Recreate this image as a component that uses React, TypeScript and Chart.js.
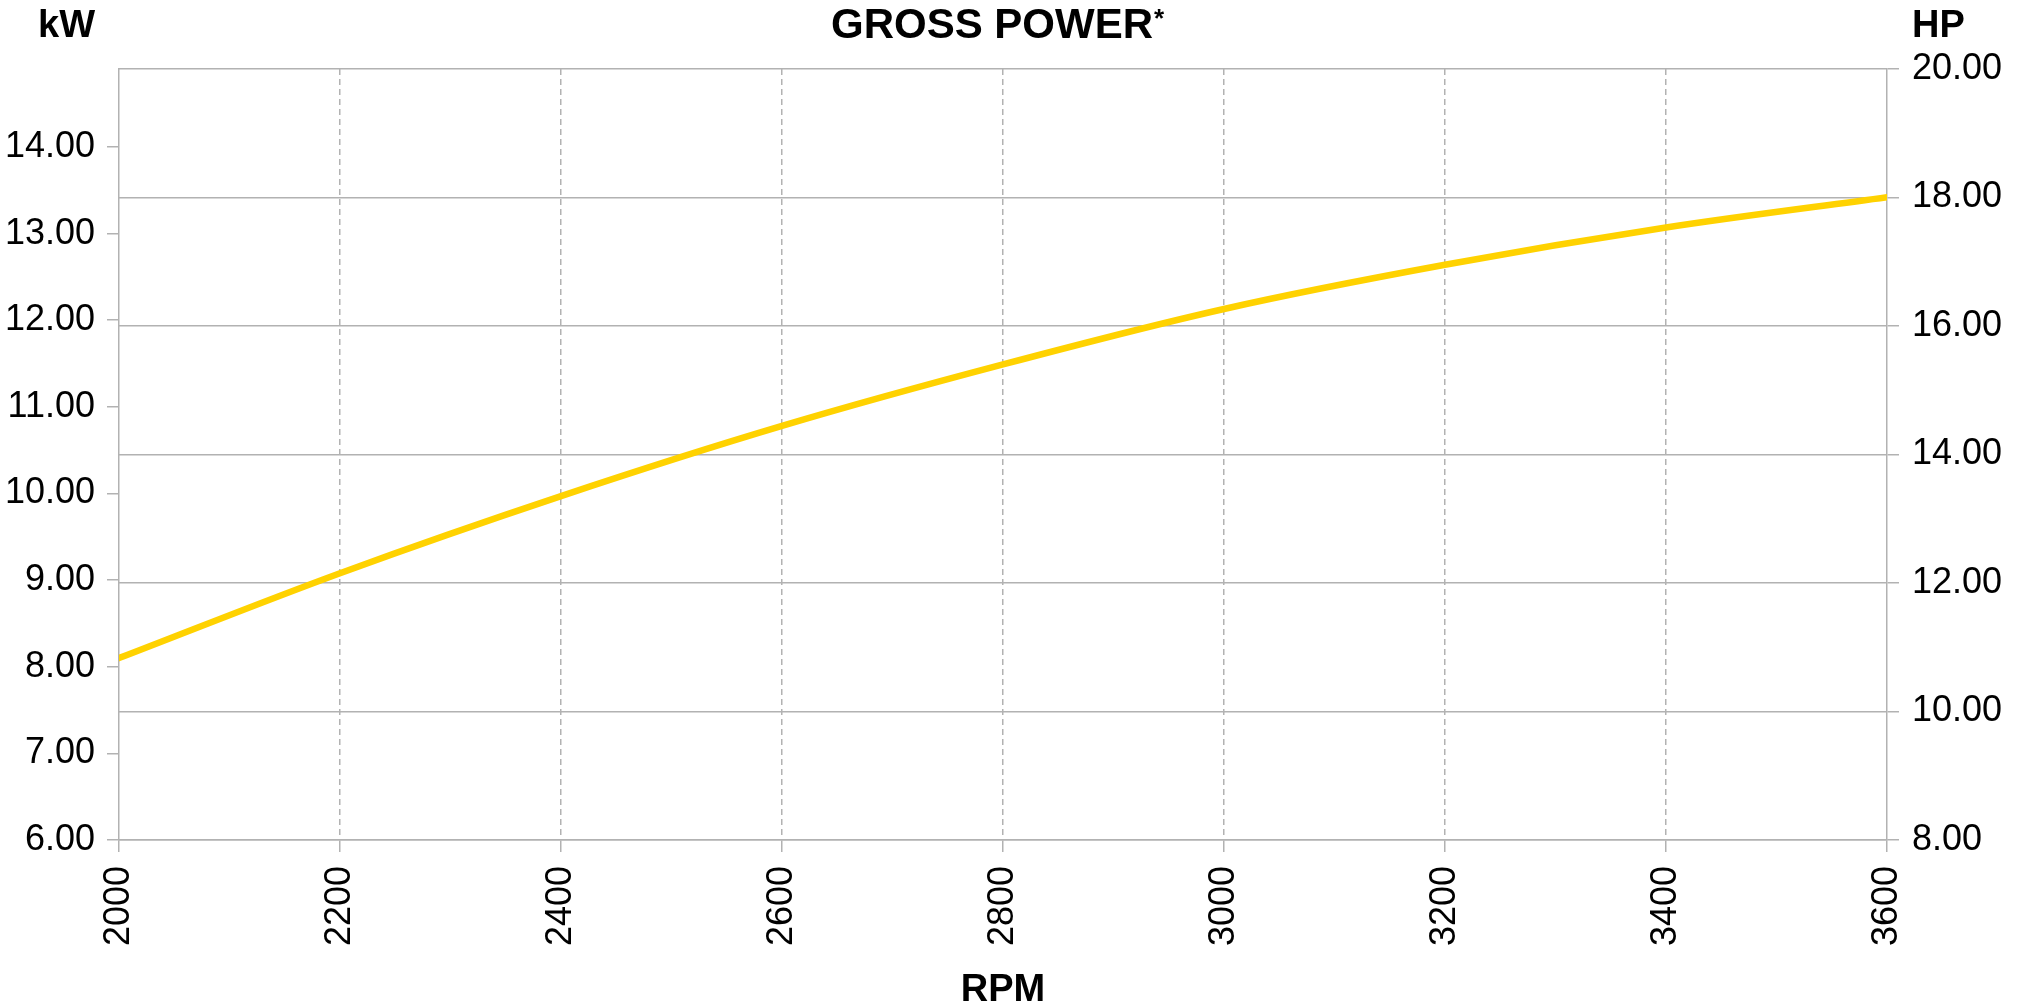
import React, { useEffect, useRef } from "react";
import { Chart, registerables } from "chart.js";

Chart.register(...registerables);

const rpm = [2000, 2200, 2400, 2600, 2800, 3000, 3200, 3400, 3600];
const grossPowerKw = [8.1, 9.08, 9.97, 10.78, 11.49, 12.13, 12.64, 13.07, 13.42];
const kwAxisRange = [6, 14.9];
const hpAxisRange = [8, 20];
const rpmAxisRange = [2000, 3600];
const titleText = "GROSS POWER";
const titleMark = "*";
const leftUnit = "kW";
const rightUnit = "HP";
const xTitle = "RPM";

const GRAY = "#b2b2b2";
const FONT = "'Liberation Sans', Arial, sans-serif";

const textPlugin = {
  id: "texts",
  afterDraw(chart: any) {
    const ctx = chart.ctx;
    const area = chart.chartArea;
    const cx = (area.left + area.right) / 2;
    ctx.save();
    ctx.fillStyle = "#000";
    ctx.textBaseline = "alphabetic";
    ctx.font = `bold 42px ${FONT}`;
    const mW = ctx.measureText(titleText).width;
    const startX = cx - 11 - mW / 2;
    ctx.textAlign = "left";
    ctx.fillText(titleText, startX, 38);
    ctx.font = `bold 26px ${FONT}`;
    ctx.fillText(titleMark, startX + mW + 1, 27);

    ctx.font = `bold 38px ${FONT}`;
    ctx.textAlign = "right";
    ctx.fillText(leftUnit, 95, 37);
    ctx.textAlign = "left";
    ctx.fillText(rightUnit, area.right + 25, 37);
    ctx.textAlign = "center";
    ctx.fillText(xTitle, cx, 1001);
    ctx.restore();
  },
};

export default function App() {
  const ref = useRef<HTMLCanvasElement | null>(null);

  useEffect(() => {
    if (!ref.current) return;
    const chart = new Chart(ref.current, {
      type: "line",
      data: {
        datasets: [
          {
            label: titleText,
            data: rpm.map((x, i) => ({ x, y: grossPowerKw[i] })),
            borderColor: "#FFD200",
            backgroundColor: "#FFD200",
            borderWidth: 6.5,
            pointRadius: 0,
            borderCapStyle: "round",
            cubicInterpolationMode: "monotone",
            tension: 0.4,
            yAxisID: "y",
            xAxisID: "x",
          },
        ],
      },
      options: {
        animation: false,
        responsive: false,
        devicePixelRatio: 1,
        layout: { padding: { top: 69, left: 0, right: 0, bottom: 0 } },
        plugins: {
          legend: { display: false },
          tooltip: { enabled: false },
          title: { display: false },
        },
        scales: {
          x: {
            type: "linear",
            position: "bottom",
            min: rpmAxisRange[0],
            max: rpmAxisRange[1],
            afterFit: (s: any) => {
              s.height = 166;
            },
            ticks: {
              stepSize: 200,
              autoSkip: false,
              minRotation: 90,
              maxRotation: 90,
              padding: 14,
              color: "#000",
              font: { family: FONT, size: 36 },
              callback: (v: any) => String(v),
            },
            grid: {
              display: true,
              drawOnChartArea: true,
              drawTicks: true,
              tickLength: 12,
              lineWidth: 1.5,
              tickWidth: 1.5,
              tickColor: GRAY,
              color: (c: any) =>
                c.tick && (c.tick.value === rpmAxisRange[0] || c.tick.value === rpmAxisRange[1])
                  ? "rgba(0,0,0,0)"
                  : GRAY,
            },
            border: { display: true, color: GRAY, width: 1.5, dash: [6, 4] },
          },
          y: {
            type: "linear",
            position: "left",
            min: kwAxisRange[0],
            max: kwAxisRange[1],
            afterFit: (s: any) => {
              s.width = 119;
            },
            ticks: {
              stepSize: 1,
              includeBounds: false,
              padding: 12,
              color: "#000",
              font: { family: FONT, size: 36 },
              callback: (v: any) => Number(v).toFixed(2),
            },
            grid: {
              display: true,
              drawOnChartArea: false,
              drawTicks: true,
              tickLength: 12,
              color: GRAY,
              lineWidth: 1.5,
            },
            border: { display: true, color: GRAY, width: 1.5 },
          },
          y2: {
            type: "linear",
            position: "right",
            min: hpAxisRange[0],
            max: hpAxisRange[1],
            afterFit: (s: any) => {
              s.width = 140;
            },
            ticks: {
              stepSize: 2,
              padding: 13,
              color: "#000",
              font: { family: FONT, size: 36 },
              callback: (v: any) => Number(v).toFixed(2),
            },
            grid: {
              display: true,
              drawOnChartArea: true,
              drawTicks: true,
              tickLength: 12,
              color: GRAY,
              lineWidth: 1.5,
            },
            border: { display: true, color: GRAY, width: 1.5 },
          },
        },
      },
      plugins: [textPlugin],
    } as any);
    return () => chart.destroy();
  }, []);

  return (
    <div style={{ position: "absolute", left: 0, top: 0, width: 2027, height: 1006, background: "#fff" }}>
      <canvas ref={ref} width={2027} height={1006} style={{ width: 2027, height: 1006, display: "block" }} />
    </div>
  );
}
